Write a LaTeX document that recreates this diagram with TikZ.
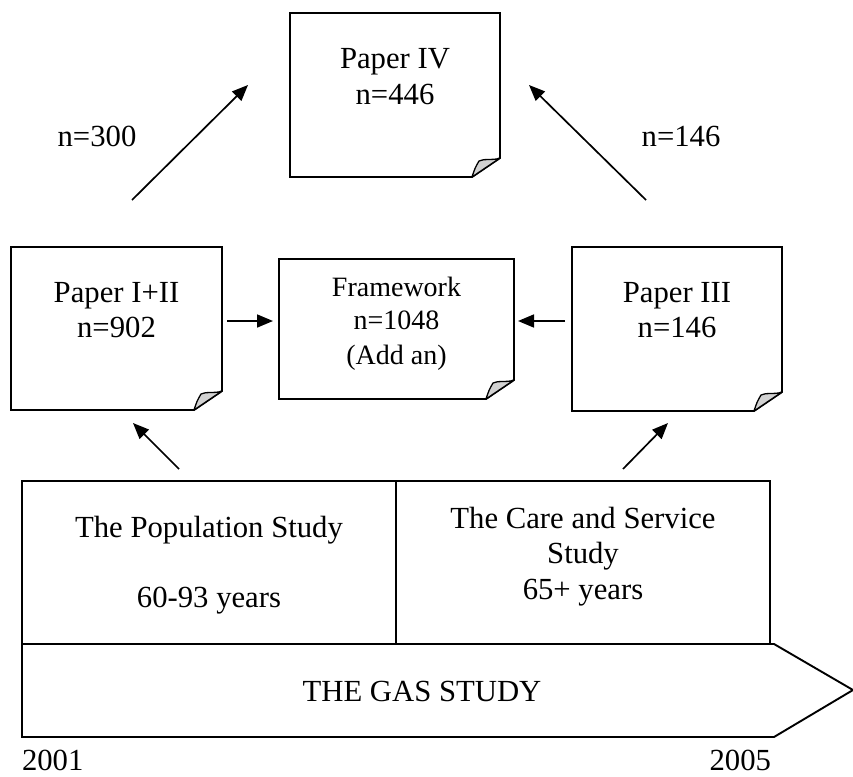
\documentclass[tikz,border=0pt]{standalone}
\usepackage{fontspec}
\setmainfont{Liberation Serif}
\usetikzlibrary{arrows.meta,calc}
\tikzset{
  x=1pt, y=-1pt,
  boxline/.style={line width=1.9pt, line join=miter},
  holder/.style={inner sep=0pt, outer sep=0pt},
  big/.style={inner sep=0pt, outer sep=0pt, font=\fontsize{30.7pt}{36pt}\selectfont},
  small/.style={inner sep=0pt, outer sep=0pt, font=\fontsize{28pt}{33pt}\selectfont},
  conn/.style={line width=1.7pt, -{Triangle[length=16pt,width=13pt]}},
  flap/.style={fill=gray!35, line width=1.3pt, line join=round}
}
\newcommand\paperoutline[1]{%
  \draw[boxline] (#1.north west) -- (#1.north east) -- ([yshift=19pt]#1.south east)
    -- ([xshift=-28pt]#1.south east) -- (#1.south west) -- cycle;
  \draw[flap] ([xshift=-28pt]#1.south east)
    .. controls ([xshift=-25pt,yshift=9pt]#1.south east) .. ([xshift=-21pt,yshift=16pt]#1.south east)
    .. controls ([xshift=-15pt,yshift=19pt]#1.south east) and ([xshift=-8pt,yshift=16pt]#1.south east) .. ([yshift=19pt]#1.south east)
    -- cycle;
}
\begin{document}
\begin{tikzpicture}
\useasboundingbox (0,0) rectangle (853,776);
% paper boxes
\node[holder, minimum width=210pt, minimum height=164pt] (p4) at (395,95) {};
\node[holder, minimum width=211pt, minimum height=163pt] (p12) at (116.5,328.5) {};
\node[holder, minimum width=235pt, minimum height=140pt] (fw) at (396.5,329) {};
\node[holder, minimum width=210pt, minimum height=164pt] (p3) at (677,329) {};
\paperoutline{p4}
\paperoutline{p12}
\paperoutline{fw}
\paperoutline{p3}
% texts in papers
\node[big, anchor=base] (p4a) at (395,68) {Paper IV};
\node[big, anchor=base] (p4b) at (395,104) {n=446};
\node[big, anchor=base] (p12a) at (116.5,302) {Paper I+II};
\node[big, anchor=base] (p12b) at (116.5,337) {n=902};
\node[small, anchor=base] (fwa) at (396.5,296) {Framework};
\node[small, anchor=base] (fwb) at (396.5,329) {n=1048};
\node[small, anchor=base] (fwc) at (396.5,364) {(Add an)};
\node[big, anchor=base] (p3a) at (677,302) {Paper III};
\node[big, anchor=base] (p3b) at (677,337) {n=146};
% n labels
\node[big, anchor=base] (nl) at (97,146) {n=300};
\node[big, anchor=base] (nr) at (681,146) {n=146};
% study cells
\node[holder, draw, boxline, minimum width=374pt, minimum height=163pt] (pop) at (209,562.5) {};
\node[holder, draw, boxline, minimum width=374pt, minimum height=163pt] (care) at (583,562.5) {};
\node[big, anchor=base] (popa) at (209,537) {The Population Study};
\node[big, anchor=base] (popb) at (209,607) {60-93 years};
\node[big, anchor=base] (carea) at (583,528) {The Care and Service};
\node[big, anchor=base] (careb) at (583,563) {Study};
\node[big, anchor=base] (carec) at (583,599) {65+ years};
% GAS arrow
\draw[boxline] (22,644) -- (774,644) -- (853,690) -- (774,737) -- (22,737) -- cycle;
\node[big, anchor=base] (gas) at (422,701) {THE GAS STUDY};
\node[big, anchor=base west] (y1) at (22,770) {2001};
\node[big, anchor=base east] (y2) at (771,770) {2005};
% connector ends
\coordinate (a1s) at (132,200); \coordinate (a1e) at (248,85);
\coordinate (a2s) at (646,200); \coordinate (a2e) at (529,85);
\coordinate (a3s) at (227,321); \coordinate (a3e) at (273,321);
\coordinate (a4s) at (565,321); \coordinate (a4e) at (518,321);
\coordinate (a5s) at (179,469); \coordinate (a5e) at (133,423);
\coordinate (a6s) at (623,469); \coordinate (a6e) at (668,423);
\draw[conn] (a1s) -- (a1e);
\draw[conn] (a2s) -- (a2e);
\draw[conn] (a3s) -- (a3e);
\draw[conn] (a4s) -- (a4e);
\draw[conn] (a5s) -- (a5e);
\draw[conn] (a6s) -- (a6e);
\end{tikzpicture}
\end{document}
